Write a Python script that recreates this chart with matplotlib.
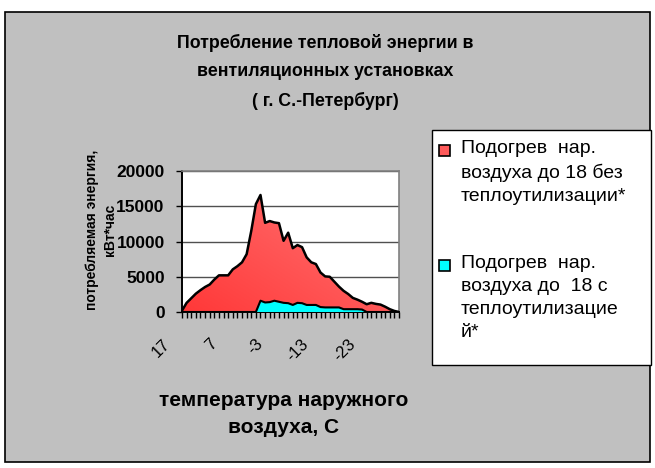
import numpy as np
import matplotlib
matplotlib.use("Agg")
import matplotlib.pyplot as plt
from matplotlib.patches import Rectangle
from matplotlib.colors import LinearSegmentedColormap
from matplotlib.transforms import ScaledTranslation

plt.rcParams['font.family'] = ['Liberation Sans', 'DejaVu Sans']

# outdoor temperature, 17 .. -30 C
temps = list(range(17, -31, -1))

# heating of outdoor air to 18 without heat recovery, kWh
no_recovery = [200, 1300, 1950, 2600, 3100, 3550, 3900, 4600, 5200, 5200,
               5200, 6050, 6500, 7050, 8200, 11500, 15300, 16600, 12650, 12900,
               12700, 12600, 10100, 11250, 9050, 9500, 9200, 7750, 7050, 6800,
               5600, 5050, 5000, 4300, 3600, 3000, 2550, 2000, 1750, 1450,
               1100, 1300, 1150, 1050, 750, 400, 150, 0]

# heating of outdoor air to 18 with heat recovery, kWh
with_recovery = [0, 0, 0, 0, 0, 0, 0, 0, 0, 0,
                 0, 0, 0, 0, 0, 0, 0, 1600, 1350, 1400,
                 1600, 1450, 1300, 1250, 1000, 1300, 1250, 1000, 1000, 1000,
                 700, 650, 650, 650, 650, 400, 400, 400, 400, 350,
                 0, 0, 0, 0, 0, 0, 0, 0]

tick_labels = ['17', '7', '-3', '-13', '-23']

red = '#ff5a5a'
cyan = '#00ffff'

W, H = 655, 468
fig = plt.figure(figsize=(W / 100, H / 100), dpi=100)
fig.patch.set_facecolor('white')

# chart frame
fig.patches.append(Rectangle((5 / W, 6 / H), 645 / W, 450 / H, transform=fig.transFigure,
                             facecolor='#c0c0c0', edgecolor='black', linewidth=1.2, zorder=0))

ax = fig.add_axes([182 / W, 1 - 312 / H, 217 / W, 141 / H])
ax.set_zorder(3)
ax.set_facecolor('white')

x = np.arange(len(temps))
red_fill = ax.fill_between(x, 0, no_recovery, facecolor=red, edgecolor='none', zorder=2)

# gradient inside the red area
grad = np.linspace(0, 1, 256)
gx, gy = np.meshgrid(grad, grad[::-1])
cmap = LinearSegmentedColormap.from_list('redgrad', ['#ff3838', '#ff7c7c'])
img = ax.imshow((gx + gy) / 2, extent=[0, len(temps) - 1, 0, 20000], aspect='auto',
                cmap=cmap, zorder=2.1, interpolation='bilinear')
img.set_clip_path(red_fill.get_paths()[0], transform=ax.transData)
ax.plot(x, no_recovery, color='black', lw=1.8, zorder=3)

ax.fill_between(x, 0, with_recovery, facecolor=cyan, edgecolor='none', zorder=4)
ax.plot(x, with_recovery, color='black', lw=1.5, zorder=5)

ax.set_xlim(0, len(temps) - 1)
ax.set_ylim(0, 20000)
ax.set_yticks(range(0, 20001, 5000))
ax.set_yticklabels(['0', '5000', '10000', '15000', '20000'], fontsize=12.5, fontweight='bold')
ax.grid(axis='y', color='#505050', lw=1.0, zorder=1)
ax.set_axisbelow(True)

ax.set_xticks(x[::10])
ax.set_xticklabels(tick_labels, fontsize=12, rotation=45, ha='right', va='center',
                   rotation_mode='anchor')
ax.set_xticks(x, minor=True)
ax.tick_params(axis='x', which='both', direction='out', length=4, width=1, color='black', pad=0)
ax.tick_params(axis='y', direction='out', length=4, width=1, color='black', pad=8.5)
for lab in ax.get_xticklabels():
    lab.set_transform(lab.get_transform() + ScaledTranslation(-0.14, -0.24, fig.dpi_scale_trans))

for s in ['top', 'right']:
    ax.spines[s].set_color('#808080')
    ax.spines[s].set_linewidth(1.2)
for s in ['left', 'bottom']:
    ax.spines[s].set_color('black')
    ax.spines[s].set_linewidth(1.4)

# title
fig.text(325 / W, 1 - 72 / H, 'Потребление тепловой энергии в\nвентиляционных установках\n( г. С.-Петербург)',
         ha='center', va='center', fontsize=12.8, fontweight='bold', linespacing=1.85)

# axis labels
fig.text(101 / W, 1 - 230 / H, 'потребляемая энергия,\nкВт*час', rotation=90, ha='center',
         va='center', fontsize=10, fontweight='bold', multialignment='center', linespacing=1.3)
fig.text(284 / W, 1 - 414 / H, 'температура наружного\nвоздуха, С', ha='center', va='center',
         fontsize=15, fontweight='bold', linespacing=1.5)

# legend
fig.patches.append(Rectangle((432 / W, 1 - 365 / H), 219 / W, 235 / H, transform=fig.transFigure,
                             facecolor='white', edgecolor='black', linewidth=1.0, zorder=1))
fig.patches.append(Rectangle((439 / W, 1 - 156 / H), 11 / W, 11 / H, transform=fig.transFigure,
                             facecolor=red, edgecolor='black', linewidth=1.2, zorder=2))
fig.patches.append(Rectangle((439 / W, 1 - 271 / H), 11 / W, 11 / H, transform=fig.transFigure,
                             facecolor=cyan, edgecolor='black', linewidth=1.2, zorder=2))
fig.text(461 / W, 1 - 140 / H, 'Подогрев  нар.\nвоздуха до 18 без\nтеплоутилизации*',
         ha='left', va='top', fontsize=14, linespacing=1.45, zorder=3)
fig.text(461 / W, 1 - 255 / H, 'Подогрев  нар.\nвоздуха до  18 с\nтеплоутилизацие\nй*',
         ha='left', va='top', fontsize=14, linespacing=1.45, zorder=3)

fig.savefig('out.png', dpi=100)
